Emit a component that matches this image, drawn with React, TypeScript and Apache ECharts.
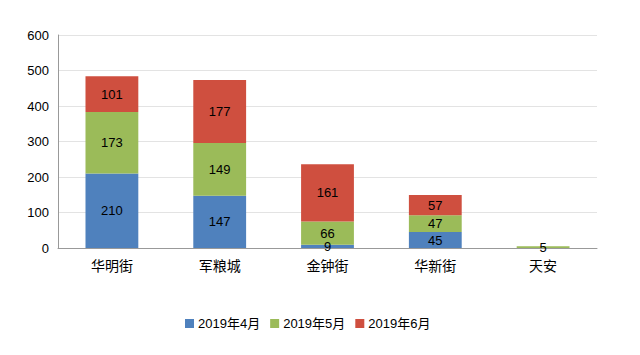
import React, { useEffect, useRef } from "react";
import * as echarts from "echarts";

const categories = ["华明街", "军粮城", "金钟街", "华新街", "天安"];
const seriesNames = ["2019年4月", "2019年5月", "2019年6月"];
const april = [210, 147, 9, 45, 0];
const may = [173, 149, 66, 47, 5];
const june = [101, 177, 161, 57, 0];
const colors = ["#4F81BD", "#9BBB59", "#CF4F3F"];

export default function App() {
  const ref = useRef<HTMLDivElement>(null);
  useEffect(() => {
    document.body.style.margin = "0";
    if (!ref.current) return;
    const chart = echarts.init(ref.current, undefined, { renderer: "svg" });
    const font = "Liberation Sans, Arial, Noto Sans CJK SC, sans-serif";
    const data = [april, may, june];
    chart.setOption({
      animation: false,
      textStyle: { fontFamily: font },
      grid: { left: 58, right: 43, top: 35, bottom: 107, containLabel: false },
      legend: {
        data: seriesNames,
        left: 180,
        top: 312,
        itemWidth: 9,
        itemHeight: 9,
        itemGap: 10,
        icon: "rect",
        textStyle: { fontSize: 13, color: "#000", fontFamily: font, padding: [0, 0, 0, -1] },
      },
      xAxis: {
        type: "category",
        data: categories,
        axisLine: { lineStyle: { color: "#999", width: 1 } },
        axisTick: { show: false },
        axisLabel: { color: "#000", fontSize: 14, margin: 11, fontFamily: font },
      },
      yAxis: {
        type: "value",
        min: 0,
        max: 600,
        interval: 100,
        axisLine: { show: true, lineStyle: { color: "#999" } },
        axisTick: { show: false },
        splitLine: { lineStyle: { color: "#e3e3e3" } },
        axisLabel: { color: "#000", fontSize: 13, margin: 9, fontFamily: font },
      },
      series: seriesNames.map((name, i) => ({
        name,
        type: "bar",
        stack: "total",
        barWidth: "49%",
        data: data[i],
        itemStyle: { color: colors[i] },
        label: {
          show: true,
          position: "inside",
          color: "#000",
          fontSize: 13,
          fontFamily: font,
          formatter: (p: any) => (p.value === 0 ? "" : String(p.value)),
        },
      })),
    });
    return () => chart.dispose();
  }, []);
  return <div ref={ref} style={{ width: 640, height: 355, background: "#fff" }} />;
}
